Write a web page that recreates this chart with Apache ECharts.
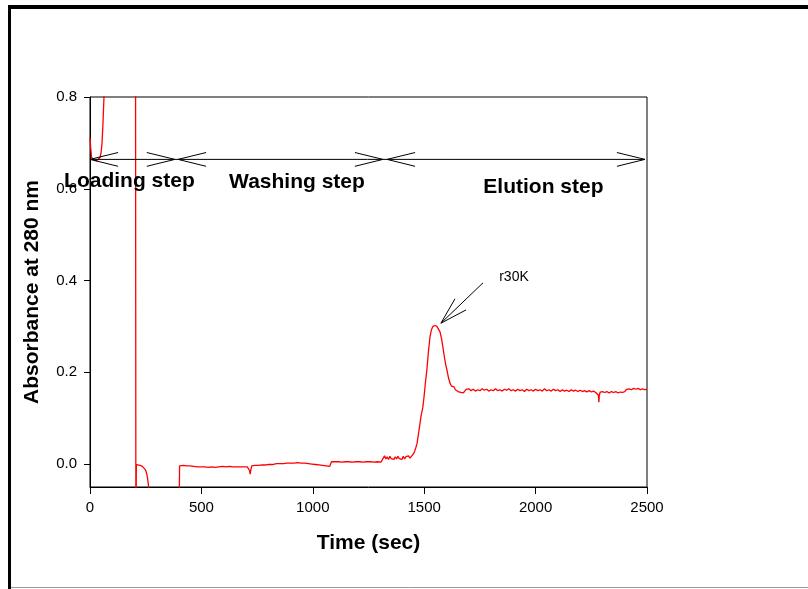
<!DOCTYPE html>
<html><head><meta charset="utf-8">
<script src="https://cdn.jsdelivr.net/npm/echarts@6/dist/echarts.min.js"></script>
<style>html,body{margin:0;padding:0;background:#fff}#c{width:808px;height:589px}</style>
</head><body><div id="c"></div>
<script>
// Time (sec) and absorbance readings
const times = [0,3,7,12,20,30,38,45,50,54,58,62,66,70,75,204,205,206,207,208,215,225,235,242,248,254,258,262,265,270,400,402,
410,418,426,434,442,450,458,466,474,482,490,498,506,514,522,530,538,546,554,562,570,578,586,594,602,610,618,626,634,642,650,658,666,674,682,690,698,706,712,716,719,722,726,
732,740,748,756,764,772,780,788,796,804,812,820,828,836,844,852,860,868,876,884,892,900,908,916,924,932,940,948,956,964,972,980,988,996,1004,1012,1020,1028,1036,1044,1052,1060,1068,1076,1080,
1084,1090,1098,1106,1114,1122,1130,1138,1146,1154,1162,1170,1178,1186,1194,1202,1210,1218,1226,1234,1242,1250,1258,1266,1274,1282,1290,1298,1306,1312,
1316,1322,1328,1334,1340,1346,1352,1358,1364,1370,1376,1382,1388,1394,1400,1406,1412,1418,1424,1430,1436,1442,1448,
1455,1462,1468,1474,1480,1486,1494,1500,1506,1512,1519,1526,1532,1539,1548,1557,1564,1571,1578,1584,1590,1596,1602,1609,1616,1622,1629,1634,1640,1646,1652,1658,1664,1670,1676,1682,1688,1694,
1700,1710,1720,1730,1740,1750,1760,1770,1780,1790,1800,1810,1820,1830,1840,1850,1860,1870,1880,1890,1900,1910,1920,1930,1940,1950,1960,1970,1980,1990,
2000,2010,2020,2030,2040,2050,2060,2070,2080,2090,2100,2110,2120,2130,2140,2150,2160,2170,2180,2190,2200,2210,2220,2230,2240,2250,2260,2270,2278,2282,2284,2286,2290,
2300,2310,2320,2330,2340,2350,2360,2370,2380,2390,2400,2408,2420,2430,2440,2450,2460,2470,2480,2490,2500];
const absorbance = [0.712,0.69,0.668,0.664,0.662,0.661,0.663,0.668,0.68,0.70,0.74,0.79,0.85,0.95,1.2,1.2,1.2,-0.2,-0.2,-0.001,-0.002,-0.003,-0.005,-0.007,-0.012,-0.02,-0.03,-0.045,-0.06,-0.12,-0.12,-0.004,
-0.004,-0.003,-0.005,-0.004,-0.005,-0.004,-0.006,-0.005,-0.004,-0.006,-0.005,-0.006,-0.004,-0.006,-0.005,-0.007,-0.005,-0.006,-0.005,-0.007,-0.005,-0.006,-0.007,-0.005,-0.007,-0.006,-0.007,-0.005,-0.007,-0.006,-0.008,-0.006,-0.007,-0.006,-0.008,-0.006,-0.007,-0.006,-0.008,-0.014,-0.022,-0.012,-0.004,
-0.002,-0.003,-0.002,-0.003,-0.001,-0.002,-0.001,-0.002,0.000,-0.001,0.000,-0.001,0.000,0.001,-0.001,0.001,0.000,0.001,0.000,0.002,0.001,0.002,0.001,0.002,0.001,0.003,0.001,0.002,0.001,0.002,0.000,0.001,-0.001,0.000,-0.002,-0.001,-0.003,-0.002,-0.004,-0.003,-0.005,-0.004,-0.006,-0.005,-0.003,
0.005,0.006,0.005,0.007,0.005,0.006,0.004,0.006,0.005,0.007,0.005,0.006,0.004,0.006,0.005,0.007,0.005,0.006,0.004,0.006,0.005,0.007,0.005,0.006,0.004,0.006,0.005,0.007,0.004,0.006,
0.013,0.018,0.011,0.016,0.010,0.017,0.012,0.015,0.010,0.016,0.011,0.017,0.012,0.016,0.010,0.017,0.011,0.016,0.012,0.018,0.013,0.015,0.020,
0.025,0.035,0.045,0.065,0.085,0.105,0.124,0.150,0.180,0.205,0.245,0.277,0.292,0.300,0.302,0.300,0.296,0.288,0.273,0.255,0.235,0.218,0.205,0.188,0.176,0.170,0.166,0.168,0.162,0.164,0.158,0.160,0.156,0.159,0.155,0.158,0.163,0.161,
0.164,0.160,0.163,0.159,0.162,0.160,0.164,0.161,0.163,0.159,0.162,0.160,0.164,0.160,0.162,0.159,0.163,0.161,0.164,0.160,0.162,0.159,0.163,0.160,0.162,0.158,0.163,0.160,0.162,0.159,
0.163,0.160,0.162,0.159,0.164,0.160,0.162,0.159,0.163,0.160,0.162,0.158,0.162,0.159,0.161,0.158,0.162,0.159,0.161,0.158,0.161,0.158,0.160,0.157,0.160,0.157,0.159,0.156,0.158,0.150,0.135,0.150,0.157,
0.158,0.156,0.158,0.155,0.158,0.156,0.158,0.155,0.157,0.156,0.158,0.163,0.164,0.162,0.165,0.163,0.165,0.162,0.164,0.162,0.163];

const yTicks = [0.0, 0.2, 0.4, 0.6, 0.8];
const xTicks = [0, 500, 1000, 1500, 2000, 2500];

// annotation arrows: [x1, y1, x2, y2] in data units
const arrowSegments = [
  [0, 0.664, 2491, 0.664],
  [0, 0.664, 126, 0.679], [0, 0.664, 126, 0.649],
  [381, 0.664, 255, 0.679], [381, 0.664, 255, 0.649],
  [395, 0.664, 521, 0.679], [395, 0.664, 521, 0.649],
  [1315, 0.664, 1189, 0.679], [1315, 0.664, 1189, 0.649],
  [1333, 0.664, 1459, 0.679], [1333, 0.664, 1459, 0.649],
  [2491, 0.664, 2365, 0.679], [2491, 0.664, 2365, 0.649],
  [1764, 0.395, 1575, 0.307], [1575, 0.307, 1638, 0.360], [1575, 0.307, 1688, 0.336]
];
const stepLabels = ['Loading step', 'Washing step', 'Elution step'];
const stepLabelX = [177, 929, 2035];
const stepLabelY = [0.617, 0.615, 0.604];
const peakLabel = 'r30K';
const peakLabelPos = [1903, 0.408];

const FONT = '"Liberation Sans", Arial, sans-serif';
const chart = echarts.init(document.getElementById('c'), null, {renderer: 'canvas'});
const lineData = times.map((t, i) => [t, absorbance[i]]);
const textData = stepLabels.map((s, i) => [stepLabelX[i], stepLabelY[i], i]);
textData.push([peakLabelPos[0], peakLabelPos[1], 3]);
const allTexts = stepLabels.concat([peakLabel]);

chart.setOption({
  animation: false,
  backgroundColor: '#fff',
  graphic: [
    {type: 'line', shape: {x1: 8, y1: 7, x2: 808, y2: 7}, style: {stroke: '#000', lineWidth: 4}},
    {type: 'line', shape: {x1: 9.5, y1: 5, x2: 9.5, y2: 589}, style: {stroke: '#000', lineWidth: 3}},
    {type: 'line', shape: {x1: 11, y1: 587.5, x2: 808, y2: 587.5}, style: {stroke: '#999', lineWidth: 1}}
  ],
  grid: {left: 90, top: 97, right: 161, bottom: 102, show: true, borderColor: '#000', borderWidth: 1, backgroundColor: 'transparent'},
  xAxis: {
    type: 'value', min: 0, max: 2500, interval: 500,
    name: 'Time (sec)', nameLocation: 'middle', nameGap: 46,
    nameTextStyle: {fontFamily: FONT, fontWeight: 'bold', fontSize: 21, color: '#000'},
    axisLine: {show: true, onZero: false, lineStyle: {color: '#000', width: 1}},
    axisTick: {show: true, inside: false, length: 7, lineStyle: {color: '#000'}, customValues: xTicks},
    axisLabel: {fontFamily: FONT, fontSize: 15, color: '#000', margin: 13, customValues: xTicks, formatter: v => String(Math.round(v))},
    splitLine: {show: false}
  },
  yAxis: {
    type: 'value', min: -0.05, max: 0.8,
    name: 'Absorbance at 280 nm', nameLocation: 'middle', nameGap: 47, nameRotate: 90,
    nameTextStyle: {fontFamily: FONT, fontWeight: 'bold', fontSize: 21, color: '#000'},
    axisLine: {show: true, onZero: false, lineStyle: {color: '#000', width: 1}},
    axisTick: {show: true, inside: false, length: 6, lineStyle: {color: '#000'}, customValues: yTicks},
    axisLabel: {fontFamily: FONT, fontSize: 15, color: '#000', margin: 13, customValues: yTicks, formatter: v => v.toFixed(1)},
    splitLine: {show: false}
  },
  series: [
    {
      type: 'line', data: lineData, showSymbol: false, symbol: 'none', clip: true,
      lineStyle: {color: '#ff0000', width: 1.3}, z: 3
    },
    {
      type: 'custom', clip: false, z: 4,
      encode: {x: [0, 2], y: [1, 3]},
      data: arrowSegments,
      renderItem: function (params, api) {
        const p1 = api.coord([api.value(0), api.value(1)]);
        const p2 = api.coord([api.value(2), api.value(3)]);
        return {type: 'line', shape: {x1: p1[0], y1: p1[1], x2: p2[0], y2: p2[1]}, style: {stroke: '#000', lineWidth: 1}};
      }
    },
    {
      type: 'custom', clip: false, z: 5,
      encode: {x: 0, y: 1},
      data: textData,
      renderItem: function (params, api) {
        const p = api.coord([api.value(0), api.value(1)]);
        const idx = api.value(2);
        const isPeak = idx === 3;
        return {
          type: 'text', x: p[0], y: p[1],
          style: {
            text: allTexts[idx], fill: '#000', align: 'center', verticalAlign: 'middle',
            font: (isPeak ? 'normal 14px ' : 'bold 21px ') + FONT
          }
        };
      }
    }
  ]
});
</script></body></html>
